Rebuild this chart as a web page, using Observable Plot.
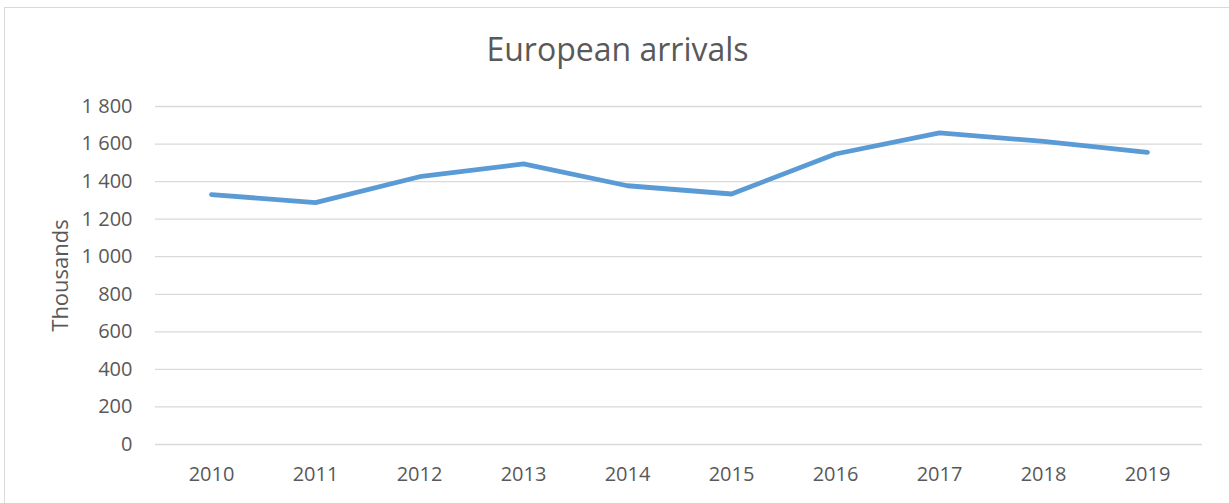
<!DOCTYPE html>
<html>
<head>
<meta charset="utf-8">
<script src="https://cdn.jsdelivr.net/npm/d3@7"></script>
<script src="https://cdn.jsdelivr.net/npm/@observablehq/plot@0.6"></script>
<style>
  html, body { margin: 0; padding: 0; background: #fff; overflow: hidden; width: 1229px; height: 503px; }
  #frame { position: absolute; left: 4px; top: 7px; width: 1260px; height: 520px; border: 1px solid #d9d9d9; box-sizing: border-box; }
  #title { position: absolute; left: 0; top: 29px; width: 1235px; text-align: center; font-family: "Open Sans", sans-serif; font-size: 32px; line-height: 40px; color: #595959; }
  #chart { position: absolute; left: 0; top: 80px; }
</style>
</head>
<body>
<div id="frame"></div>
<div id="title">European arrivals</div>
<div id="chart"></div>
<script>
const years = ["2010","2011","2012","2013","2014","2015","2016","2017","2018","2019"];
const arrivals = [1331, 1288, 1426, 1494, 1378, 1334, 1547, 1660, 1614, 1556];
const yTicks = [0, 200, 400, 600, 800, 1000, 1200, 1400, 1600, 1800];
const yLabel = "Thousands";

const data = years.map((y, i) => ({year: y, value: arrivals[i]}));
const fmt = d3.formatLocale({thousands: " ", grouping: [3], decimal: ".", currency: ["", ""]}).format(",");

const chart = Plot.plot({
  width: 1229,
  height: 423,
  marginLeft: 155,
  marginRight: 27,
  marginTop: 26,
  marginBottom: 59,
  style: {fontFamily: "'Open Sans', sans-serif", fontSize: "20px", color: "#595959", background: "transparent", overflow: "visible"},
  x: {type: "point", domain: years, padding: 0.5},
  y: {domain: [0, 1800]},
  marks: [
    Plot.gridY(yTicks, {stroke: "#d9d9d9", strokeOpacity: 1, strokeWidth: 1.3}),
    Plot.axisX({tickSize: 0, tickPadding: 22, label: null, fontSize: 20}),
    Plot.axisY(yTicks, {tickSize: 0, tickPadding: 23, tickFormat: fmt, label: null, fontSize: 20}),
    Plot.text([yLabel], {frameAnchor: "left", textAnchor: "middle", dx: -95, rotate: -90, fontSize: 22, fill: "#595959"}),
    Plot.lineY(data, {x: "year", y: "value", stroke: "#5B9BD5", strokeWidth: 4.8, strokeLinecap: "round", strokeLinejoin: "round"})
  ]
});
document.getElementById("chart").appendChild(chart);
</script>
</body>
</html>
